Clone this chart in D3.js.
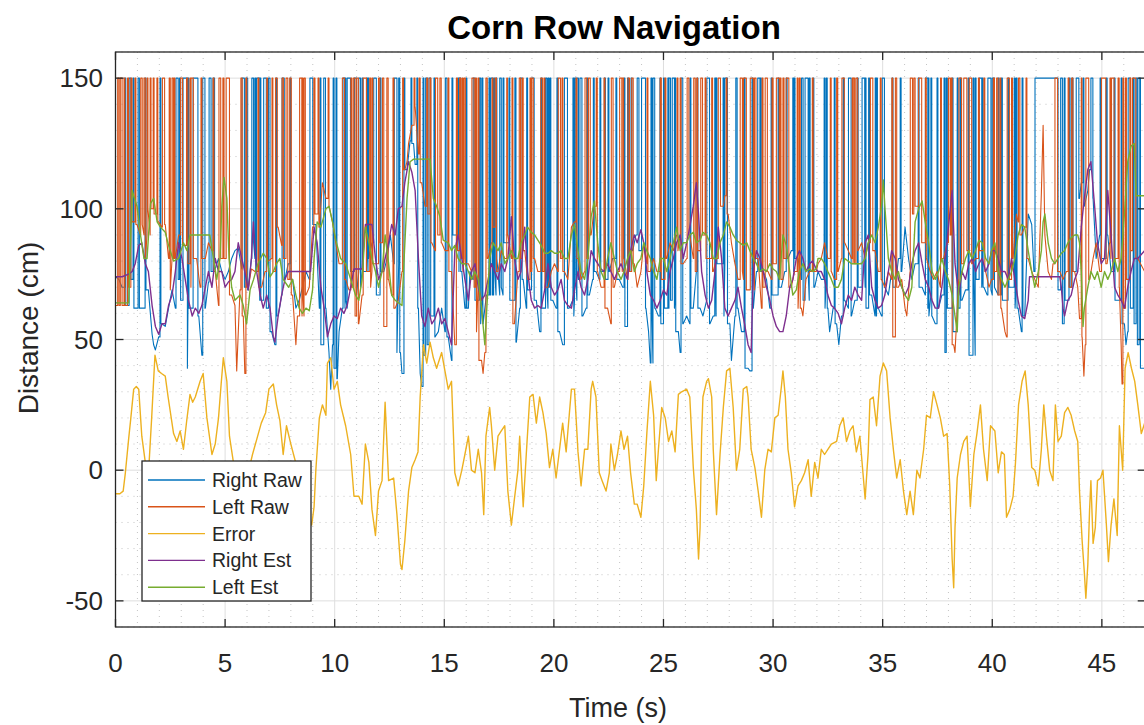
<!DOCTYPE html>
<html>
<head>
<meta charset="utf-8">
<script src="https://cdn.jsdelivr.net/npm/d3@7/dist/d3.min.js"></script>
<style>
  body { margin: 0; background: #fff; }
  text { font-family: 'Liberation Sans', Arial, Helvetica, sans-serif; fill: #262626; }
</style>
</head>
<body>
<div id="app"></div>
<script>
// [time s, distance cm]
const errorData = [[0,-9],[0.2,-9],[0.35,-8],[0.45,-1],[0.6,12],[0.7,20],[0.83,31],[0.95,32],[1.06,31],[1.2,13],[1.36,3],[1.5,-2],[1.65,20],[1.8,44],[1.95,38],[2.1,37],[2.27,36],[2.4,28],[2.65,14],[2.8,11],[2.95,15],[3.1,8],[3.25,19],[3.4,29],[3.52,26],[3.64,28],[3.86,34],[4.0,37],[4.17,20],[4.4,6],[4.55,10],[4.7,20],[4.82,33],[4.92,43],[5.08,34],[5.2,13],[5.38,3],[5.6,-4],[5.85,-6],[6.05,-1],[6.25,6],[6.45,12],[6.65,18],[6.85,22],[7.0,31],[7.2,33],[7.35,25],[7.5,19],[7.65,6],[7.8,17],[8.0,10],[8.25,2],[8.5,-8],[8.75,-16],[8.95,-21],[9.06,-14],[9.14,0],[9.3,20],[9.44,25],[9.6,21],[9.67,41],[9.82,43],[9.97,31],[10.12,34],[10.27,25],[10.5,17],[10.73,6],[10.88,-10],[11.1,-10],[11.25,-13],[11.4,10],[11.56,3],[11.7,-15],[11.86,-25],[12.0,-8],[12.16,-4],[12.3,26],[12.46,-4],[12.69,-3],[12.84,-17],[13.0,-36],[13.07,-38],[13.2,-27],[13.37,-8],[13.52,1],[13.67,4],[13.8,7],[13.9,28],[14.05,48],[14.2,41],[14.35,49],[14.5,43],[14.65,39],[14.88,45],[15.03,38],[15.18,31],[15.33,34],[15.48,-1],[15.63,-6],[15.8,0],[15.94,6],[16.1,13],[16.24,0],[16.4,-1],[16.55,8],[16.7,-1],[16.8,-17],[16.9,13],[17.07,24],[17.15,17],[17.3,0],[17.45,13],[17.6,15],[17.76,17],[17.9,-8],[18.06,-21],[18.2,-11],[18.36,0],[18.44,13],[18.6,-14],[18.74,6],[18.9,28],[19.05,29],[19.2,18],[19.35,28],[19.5,22],[19.65,14],[19.8,1],[19.95,8],[20.1,-3],[20.26,8],[20.4,18],[20.56,7],[20.7,21],[20.8,31],[20.94,31],[21.1,7],[21.24,-6],[21.4,8],[21.55,8],[21.7,31],[21.77,34],[21.92,28],[22.07,-1],[22.2,-4],[22.38,-8],[22.53,-1],[22.6,10],[22.76,0],[22.9,6],[23.06,15],[23.2,8],[23.36,13],[23.5,-1],[23.67,-13],[23.8,-13],[23.97,-18],[24.1,-6],[24.24,14],[24.4,34],[24.55,21],[24.67,-4],[24.77,8],[24.92,24],[25.08,20],[25.23,11],[25.38,15],[25.53,7],[25.68,29],[25.83,30],[26.06,31],[26.2,28],[26.36,1],[26.5,-15],[26.6,-34],[26.67,-22],[26.74,13],[26.8,28],[26.97,34],[27.05,35],[27.2,28],[27.27,8],[27.42,-17],[27.58,6],[27.73,24],[27.88,38],[28.03,39],[28.18,24],[28.33,0],[28.48,8],[28.64,31],[28.8,32],[28.86,28],[29.0,8],[29.17,1],[29.32,-8],[29.47,-18],[29.62,0],[29.77,8],[29.92,7],[30.08,20],[30.23,21],[30.38,32],[30.45,38],[30.56,28],[30.68,8],[30.83,-1],[30.98,-14],[31.14,-6],[31.29,-4],[31.44,-1],[31.6,4],[31.74,-10],[31.9,3],[32.05,-3],[32.2,8],[32.35,6],[32.5,8],[32.66,10],[32.9,11],[33.04,17],[33.2,20],[33.35,11],[33.5,15],[33.65,17],[33.8,7],[33.96,13],[34.1,-1],[34.2,-11],[34.34,7],[34.42,27],[34.57,28],[34.72,17],[34.88,36],[35.03,41],[35.18,38],[35.34,20],[35.5,7],[35.64,-3],[35.8,4],[35.95,-8],[36.1,-17],[36.25,-8],[36.4,-17],[36.56,0],[36.7,-3],[36.87,8],[37.0,21],[37.17,20],[37.32,30],[37.48,25],[37.63,20],[37.78,13],[37.94,14],[38.06,-6],[38.17,-34],[38.24,-45],[38.3,-22],[38.4,-3],[38.55,6],[38.7,11],[38.85,13],[39.0,-14],[39.16,6],[39.3,14],[39.46,25],[39.6,8],[39.77,-4],[39.92,17],[40.12,15],[40.27,-1],[40.42,7],[40.55,6],[40.65,-18],[40.8,-15],[40.95,-10],[41.06,3],[41.2,25],[41.36,34],[41.5,38],[41.64,25],[41.8,1],[41.94,0],[42.1,-6],[42.24,8],[42.35,25],[42.47,13],[42.62,0],[42.77,-4],[42.88,25],[43.0,11],[43.15,13],[43.3,22],[43.45,24],[43.6,21],[43.76,15],[43.9,11],[43.98,-8],[44.1,-27],[44.2,-39],[44.27,-49],[44.36,-36],[44.44,-15],[44.5,-4],[44.6,-28],[44.7,-22],[44.8,-4],[44.94,-3],[45.05,0],[45.2,-20],[45.3,-35],[45.42,-21],[45.55,-11],[45.7,-25],[45.8,17],[45.95,0],[46.06,39],[46.2,45],[46.35,39],[46.5,34],[46.64,25],[46.8,14],[46.95,18]];

const leftEst = [[0,64],[0.3,64],[0.6,64],[0.76,107],[0.83,105],[0.98,101],[1.14,90],[1.3,81],[1.44,81],[1.6,102],[1.74,104],[1.9,95],[2.05,93],[2.27,91],[2.42,86],[2.65,80],[2.88,81],[3.1,87],[3.26,84],[3.4,90],[3.7,90],[4.0,90],[4.3,90],[4.47,81],[4.62,73],[4.77,81],[4.85,101],[4.95,112],[5.08,104],[5.18,81],[5.3,70],[5.45,65],[5.68,67],[5.83,63],[5.98,56],[6.14,69],[6.3,73],[6.5,79],[6.74,83],[6.9,81],[7.05,74],[7.2,76],[7.35,79],[7.5,81],[7.65,73],[7.9,70],[8.08,73],[8.23,67],[8.38,62],[8.53,60],[8.69,62],[8.84,61],[8.99,69],[9.06,81],[9.2,95],[9.37,93],[9.6,100],[9.74,101],[9.9,95],[10.05,88],[10.27,81],[10.5,79],[10.73,73],[10.95,67],[11.1,65],[11.25,73],[11.4,93],[11.56,87],[11.7,81],[11.86,76],[12.0,70],[12.16,76],[12.3,90],[12.46,79],[12.6,67],[12.76,65],[13.07,63],[13.14,76],[13.3,104],[13.44,118],[13.6,119],[14.0,119],[14.35,119],[14.5,104],[14.65,101],[14.8,97],[14.95,88],[15.18,87],[15.33,84],[15.48,86],[15.63,81],[15.8,79],[15.94,79],[16.1,76],[16.24,73],[16.4,76],[16.55,73],[16.7,62],[16.85,48],[16.92,59],[17.07,81],[17.23,87],[17.45,84],[17.6,87],[17.76,79],[17.9,81],[18.06,84],[18.2,81],[18.36,81],[18.5,87],[18.67,90],[18.8,93],[18.97,91],[19.12,90],[19.27,88],[19.42,86],[19.58,83],[19.73,83],[19.88,84],[20.03,83],[20.18,83],[20.33,84],[20.48,81],[20.64,81],[20.8,90],[20.94,94],[21.1,84],[21.24,76],[21.4,73],[21.55,81],[21.7,97],[21.85,103],[22.0,87],[22.15,76],[22.3,73],[22.45,81],[22.6,87],[22.76,81],[22.9,76],[23.06,73],[23.2,76],[23.36,81],[23.5,84],[23.67,76],[23.8,79],[23.97,81],[24.1,87],[24.24,84],[24.4,81],[24.55,76],[24.7,73],[24.85,81],[25.0,81],[25.15,76],[25.3,81],[25.45,87],[25.6,93],[25.76,84],[25.9,87],[26.06,87],[26.2,90],[26.36,91],[26.5,87],[26.67,88],[26.8,91],[26.97,90],[27.12,87],[27.27,81],[27.42,81],[27.58,87],[27.73,90],[27.88,95],[28.03,93],[28.18,90],[28.33,88],[28.48,87],[28.64,86],[28.8,87],[28.94,84],[29.1,81],[29.24,79],[29.4,76],[29.55,77],[29.7,76],[29.85,79],[30.0,77],[30.15,76],[30.3,73],[30.45,90],[30.6,86],[30.76,76],[30.9,67],[31.06,69],[31.2,76],[31.36,79],[31.5,76],[31.67,77],[31.8,76],[31.97,77],[32.05,81],[32.2,81],[32.35,79],[32.5,76],[32.66,73],[32.8,70],[32.97,70],[33.12,73],[33.27,81],[33.43,80],[33.58,79],[33.73,79],[34.04,79],[34.2,81],[34.34,87],[34.5,90],[34.65,87],[34.8,93],[34.95,101],[35.03,111],[35.1,101],[35.26,81],[35.41,76],[35.57,73],[35.72,76],[35.87,70],[36.02,67],[36.18,65],[36.33,70],[36.48,95],[36.64,100],[36.8,103],[36.94,95],[37.1,87],[37.25,76],[37.4,73],[37.55,76],[37.7,81],[37.86,76],[38.0,73],[38.17,67],[38.3,59],[38.4,53],[38.47,70],[38.62,76],[38.78,81],[38.93,84],[39.08,81],[39.24,84],[39.39,88],[39.54,87],[39.7,81],[39.85,79],[39.97,84],[40.12,87],[40.27,76],[40.42,73],[40.58,70],[40.73,73],[40.88,76],[41.03,81],[41.18,90],[41.33,94],[41.48,93],[41.64,84],[41.8,76],[41.94,70],[42.1,76],[42.24,84],[42.32,95],[42.4,98],[42.55,87],[42.7,81],[42.85,79],[43.0,81],[43.15,83],[43.3,84],[43.45,87],[43.6,89],[43.76,90],[43.9,90],[43.98,87],[44.06,76],[44.14,55],[44.2,62],[44.36,70],[44.5,76],[44.67,73],[44.8,76],[44.97,70],[45.12,76],[45.27,73],[45.42,76],[45.58,81],[45.73,76],[45.88,81],[46.03,98],[46.18,118],[46.33,124],[46.48,125],[46.56,105],[46.7,105],[46.95,105]];

const rightEst = [[0,74],[0.3,74],[0.6,75],[0.76,76],[0.9,79],[1.06,86],[1.2,87],[1.36,79],[1.5,76],[1.67,63],[1.82,55],[1.97,52],[2.12,56],[2.27,56],[2.42,63],[2.58,67],[2.73,76],[2.88,87],[3.03,81],[3.18,73],[3.33,65],[3.5,59],[3.64,62],[3.8,60],[3.94,63],[4.1,70],[4.24,76],[4.4,70],[4.55,81],[4.7,76],[4.85,76],[5.0,70],[5.15,72],[5.3,73],[5.45,76],[5.6,87],[5.76,81],[5.9,76],[6.06,69],[6.2,81],[6.29,95],[6.44,76],[6.6,67],[6.74,62],[6.9,67],[7.05,62],[7.2,51],[7.27,49],[7.42,59],[7.58,67],[7.73,73],[7.88,76],[8.1,76],[8.5,76],[8.9,76],[9.06,93],[9.2,87],[9.37,70],[9.52,62],[9.67,51],[9.82,56],[9.97,59],[10.12,58],[10.27,62],[10.42,60],[10.57,63],[10.73,70],[10.88,77],[11.1,77],[11.25,77],[11.4,94],[11.7,94],[11.86,81],[12.0,73],[12.16,76],[12.3,81],[12.46,87],[12.6,94],[12.76,90],[12.9,100],[13.07,101],[13.2,110],[13.37,118],[13.52,114],[13.67,107],[13.82,81],[13.97,59],[14.12,55],[14.27,62],[14.43,56],[14.58,58],[14.73,62],[14.88,56],[15.03,58],[15.18,53],[15.33,48],[15.48,84],[15.63,90],[15.8,81],[15.94,73],[16.1,65],[16.24,76],[16.4,79],[16.55,70],[16.7,65],[16.85,67],[17.0,73],[17.15,79],[17.3,76],[17.45,73],[17.6,79],[17.76,76],[17.9,81],[18.06,97],[18.2,81],[18.36,73],[18.5,76],[18.67,93],[18.8,76],[18.97,65],[19.12,62],[19.27,63],[19.42,62],[19.58,69],[19.73,79],[19.88,70],[20.03,67],[20.18,69],[20.33,73],[20.48,65],[20.64,63],[20.8,62],[20.94,69],[21.1,76],[21.24,70],[21.4,67],[21.55,73],[21.7,84],[21.85,81],[22.0,79],[22.15,77],[22.3,76],[22.45,79],[22.6,76],[22.76,73],[22.9,76],[23.06,79],[23.2,76],[23.36,73],[23.5,84],[23.67,90],[23.8,87],[23.97,92],[24.1,87],[24.24,76],[24.4,67],[24.55,65],[24.7,62],[24.85,65],[25.0,69],[25.15,67],[25.3,76],[25.45,81],[25.6,87],[25.76,90],[25.9,81],[26.06,87],[26.2,93],[26.36,101],[26.5,110],[26.6,98],[26.74,76],[26.9,67],[27.05,62],[27.2,65],[27.35,76],[27.5,93],[27.65,81],[27.8,62],[27.95,59],[28.1,62],[28.26,65],[28.4,70],[28.56,62],[28.7,56],[28.86,48],[29.0,45],[29.1,76],[29.24,84],[29.4,81],[29.55,76],[29.7,70],[29.85,65],[30.0,59],[30.15,55],[30.3,53],[30.45,53],[30.6,59],[30.76,70],[30.9,73],[31.06,81],[31.2,84],[31.36,81],[31.5,76],[31.67,79],[31.8,80],[31.97,77],[32.05,76],[32.2,76],[32.35,73],[32.5,67],[32.66,63],[32.8,62],[32.97,60],[33.12,56],[33.27,62],[33.43,67],[33.58,65],[33.73,70],[33.88,67],[34.04,65],[34.2,87],[34.34,90],[34.5,70],[34.65,65],[34.8,62],[34.95,63],[35.1,67],[35.26,76],[35.41,84],[35.57,81],[35.72,73],[35.87,70],[36.02,67],[36.18,70],[36.33,79],[36.48,84],[36.64,87],[36.8,79],[36.94,73],[37.1,70],[37.25,65],[37.4,62],[37.55,62],[37.7,70],[37.86,81],[38.0,93],[38.17,107],[38.3,79],[38.47,67],[38.62,76],[38.78,73],[38.93,79],[39.08,81],[39.24,76],[39.39,79],[39.54,81],[39.7,76],[39.85,79],[39.97,84],[40.12,84],[40.27,81],[40.42,76],[40.58,76],[40.73,73],[40.88,81],[41.03,73],[41.18,65],[41.33,59],[41.48,58],[41.64,65],[41.7,74],[42.4,74],[43.08,74],[43.15,70],[43.23,62],[43.3,59],[43.45,65],[43.6,67],[43.76,73],[43.9,76],[44.06,93],[44.2,104],[44.36,115],[44.5,118],[44.67,101],[44.8,87],[44.97,79],[45.12,81],[45.27,107],[45.42,90],[45.58,70],[45.73,67],[45.88,65],[46.03,62],[46.18,70],[46.33,76],[46.48,81],[46.64,81],[46.95,84]];

// raw sensor readings below the 150 cm cap
const rightRawBase = [[0,74],[0.15,73],[0.3,70],[0.45,74],[0.6,63],[0.75,73],[0.9,62],[1.06,55],[1.2,62],[1.36,58],[1.5,69],[1.67,52],[1.74,48],[1.82,46],[1.97,51],[2.12,56],[2.27,55],[2.42,62],[2.58,69],[2.73,62],[2.88,73],[3.03,65],[3.18,62],[3.33,39],[3.5,62],[3.64,63],[3.8,59],[3.94,44],[4.1,62],[4.24,72],[4.4,76],[4.55,77],[4.7,81],[4.85,76],[5.0,73],[5.15,76],[5.3,81],[5.45,84],[5.6,85],[5.76,77],[5.9,70],[6.06,69],[6.2,81],[6.36,87],[6.5,76],[6.67,65],[6.82,62],[6.97,62],[7.12,53],[7.27,48],[7.42,59],[7.58,67],[7.73,73],[7.88,79],[8.08,73],[8.23,62],[8.38,65],[8.53,70],[8.69,76],[8.84,73],[8.99,90],[9.14,94],[9.3,62],[9.44,48],[9.6,62],[9.74,45],[9.82,31],[9.9,48],[10.05,39],[10.12,35],[10.2,53],[10.35,62],[10.5,70],[10.65,65],[10.8,76],[10.95,81],[11.1,67],[11.25,70],[11.4,76],[11.56,81],[11.7,87],[11.86,76],[11.93,67],[12.08,62],[12.24,76],[12.39,81],[12.54,90],[12.69,79],[12.84,62],[13.0,45],[13.07,37],[13.2,76],[13.3,115],[13.44,126],[13.6,125],[13.67,117],[13.82,62],[13.9,37],[13.97,32],[14.12,44],[14.27,48],[14.43,59],[14.58,51],[14.73,53],[14.88,62],[15.03,53],[15.18,51],[15.33,42],[15.48,90],[15.63,87],[15.8,76],[15.94,62],[16.1,62],[16.17,76],[16.3,73],[16.47,65],[16.62,62],[16.77,56],[16.92,67],[17.07,55],[17.23,67],[17.38,76],[17.53,81],[17.68,70],[17.83,87],[17.98,73],[18.14,65],[18.29,49],[18.44,62],[18.6,73],[18.74,62],[18.9,69],[19.05,76],[19.2,65],[19.35,53],[19.5,62],[19.65,48],[19.8,70],[19.95,65],[20.1,62],[20.26,53],[20.4,48],[20.56,59],[20.7,62],[20.86,65],[21.0,59],[21.17,73],[21.32,59],[21.47,62],[21.62,67],[21.77,73],[21.92,76],[22.07,73],[22.23,76],[22.38,73],[22.53,76],[22.68,81],[22.83,84],[22.98,73],[23.14,70],[23.3,55],[23.44,76],[23.6,84],[23.74,90],[23.9,84],[24.05,73],[24.2,62],[24.32,53],[24.4,41],[24.47,48],[24.62,62],[24.77,59],[24.92,56],[25.08,62],[25.23,59],[25.38,65],[25.53,62],[25.68,53],[25.76,45],[25.9,56],[26.06,59],[26.2,56],[26.36,62],[26.5,76],[26.67,62],[26.8,59],[26.97,65],[27.12,56],[27.27,59],[27.42,70],[27.58,79],[27.73,62],[27.88,59],[28.03,56],[28.1,42],[28.26,59],[28.4,62],[28.56,53],[28.7,48],[28.86,39],[28.94,38],[29.1,62],[29.24,76],[29.4,81],[29.55,76],[29.7,73],[29.85,62],[29.92,52],[30.08,67],[30.23,73],[30.38,70],[30.53,76],[30.68,81],[30.83,84],[30.98,76],[31.14,81],[31.29,73],[31.44,65],[31.6,67],[31.74,76],[31.9,70],[32.05,76],[32.2,73],[32.35,76],[32.5,62],[32.58,53],[32.74,62],[32.9,56],[33.0,48],[33.12,59],[33.27,65],[33.43,62],[33.58,59],[33.73,65],[33.88,59],[34.04,70],[34.2,76],[34.34,62],[34.5,67],[34.65,59],[34.8,62],[34.95,59],[35.1,70],[35.26,67],[35.41,76],[35.57,70],[35.72,81],[35.87,76],[36.02,93],[36.18,81],[36.33,73],[36.48,79],[36.64,73],[36.8,70],[36.94,67],[37.1,62],[37.25,59],[37.4,56],[37.55,62],[37.7,67],[37.86,45],[38.0,62],[38.17,48],[38.3,53],[38.47,62],[38.62,65],[38.78,69],[38.93,70],[39.0,44],[39.16,67],[39.3,73],[39.46,73],[39.62,70],[39.77,67],[39.92,62],[40.08,69],[40.27,70],[40.42,76],[40.58,65],[40.73,62],[40.88,70],[41.03,65],[41.18,62],[41.33,53],[41.48,59],[41.64,98],[41.8,94],[41.9,76],[43.08,69],[43.23,56],[43.3,62],[43.45,65],[43.6,70],[43.76,76],[43.9,81],[43.98,104],[44.06,110],[44.2,101],[44.36,107],[44.44,115],[44.6,104],[44.74,81],[44.9,90],[45.05,81],[45.2,126],[45.27,90],[45.42,76],[45.58,70],[45.73,65],[45.88,62],[46.03,56],[46.1,48],[46.18,53],[46.33,62],[46.48,56],[46.64,48],[46.8,39],[46.95,39]];

const leftRawBase = [[0,63],[0.15,64],[0.3,63],[0.53,63],[0.68,70],[0.83,95],[0.98,94],[1.14,90],[1.3,94],[1.44,81],[1.67,100],[1.82,98],[1.97,95],[2.12,93],[2.27,94],[2.42,81],[2.58,69],[2.73,81],[2.88,90],[3.03,84],[3.18,86],[3.33,79],[3.5,70],[3.7,81],[3.86,70],[4.1,81],[4.24,87],[4.4,84],[4.55,76],[4.7,63],[4.85,81],[5.0,81],[5.15,76],[5.3,67],[5.45,63],[5.53,38],[5.68,69],[5.83,59],[5.9,37],[6.06,70],[6.2,77],[6.36,76],[6.5,73],[6.67,70],[6.82,76],[6.97,80],[7.12,81],[7.27,76],[7.42,93],[7.58,86],[7.73,81],[7.88,73],[8.08,67],[8.23,48],[8.3,59],[8.53,70],[8.69,67],[8.84,70],[8.99,93],[9.14,98],[9.3,93],[9.44,110],[9.6,104],[9.74,101],[9.9,95],[10.05,87],[10.2,79],[10.35,77],[10.5,73],[10.65,69],[10.8,70],[10.95,59],[11.1,56],[11.25,67],[11.4,73],[11.56,76],[11.7,70],[11.86,79],[12.0,76],[12.16,87],[12.3,55],[12.46,73],[12.6,67],[12.76,62],[12.9,65],[13.07,76],[13.2,115],[13.3,118],[13.37,125],[13.52,132],[13.67,139],[13.82,121],[13.97,110],[14.12,101],[14.27,98],[14.43,87],[14.58,84],[14.73,90],[14.88,87],[15.03,84],[15.18,84],[15.33,76],[15.48,48],[15.63,84],[15.8,81],[15.94,76],[16.1,79],[16.24,76],[16.4,70],[16.55,53],[16.7,42],[16.77,37],[16.85,45],[17.0,81],[17.15,87],[17.3,93],[17.45,76],[17.6,84],[17.76,81],[17.9,90],[18.06,81],[18.2,56],[18.36,76],[18.5,81],[18.67,84],[18.8,73],[18.97,76],[19.12,81],[19.27,76],[19.42,73],[19.58,76],[19.73,70],[19.88,76],[20.03,79],[20.18,76],[20.33,81],[20.48,76],[20.64,73],[20.8,93],[20.94,95],[21.1,81],[21.24,73],[21.4,76],[21.55,81],[21.7,90],[21.85,101],[22.0,76],[22.15,70],[22.3,67],[22.45,62],[22.6,56],[22.76,70],[22.9,76],[23.06,87],[23.2,81],[23.36,73],[23.5,76],[23.67,79],[23.8,70],[23.97,76],[24.1,87],[24.24,79],[24.4,76],[24.55,81],[24.7,76],[24.85,79],[25.0,73],[25.15,81],[25.3,87],[25.45,84],[25.6,90],[25.76,84],[25.9,79],[26.06,81],[26.2,90],[26.36,81],[26.5,76],[26.67,84],[26.8,90],[26.97,81],[27.12,81],[27.27,76],[27.42,81],[27.58,81],[27.73,101],[27.8,105],[27.95,98],[28.1,87],[28.26,79],[28.4,73],[28.56,76],[28.7,76],[28.86,69],[29.0,76],[29.17,79],[29.32,81],[29.47,62],[29.62,70],[29.77,76],[29.92,73],[30.08,79],[30.23,76],[30.38,73],[30.53,81],[30.68,76],[30.83,70],[30.98,76],[31.14,70],[31.29,62],[31.36,59],[31.5,73],[31.67,76],[31.8,79],[31.97,76],[32.05,79],[32.2,81],[32.35,87],[32.5,81],[32.66,76],[32.8,73],[32.97,76],[33.12,81],[33.27,87],[33.43,84],[33.58,81],[33.73,79],[33.88,84],[34.04,87],[34.2,81],[34.34,87],[34.5,90],[34.65,84],[34.8,76],[34.95,73],[35.1,70],[35.26,76],[35.41,73],[35.5,51],[35.72,70],[35.87,73],[36.02,62],[36.1,59],[36.25,76],[36.4,98],[36.56,101],[36.7,98],[36.87,87],[37.0,81],[37.17,76],[37.32,73],[37.48,76],[37.63,70],[37.78,81],[37.94,87],[38.1,90],[38.24,48],[38.3,45],[38.47,73],[38.62,79],[38.78,81],[38.93,84],[39.08,79],[39.24,81],[39.39,87],[39.54,84],[39.7,76],[39.85,70],[39.97,73],[40.12,76],[40.27,67],[40.42,62],[40.58,53],[40.65,51],[40.8,73],[40.95,81],[41.1,98],[41.18,95],[41.33,90],[41.48,93],[41.64,81],[41.8,76],[41.94,73],[42.1,70],[42.24,106],[42.32,132],[42.4,90],[42.55,76],[42.7,73],[42.77,79],[43.08,76],[43.23,73],[43.38,76],[43.53,70],[43.76,76],[43.9,70],[43.98,58],[44.1,51],[44.18,36],[44.24,48],[44.45,73],[44.6,81],[44.74,87],[44.9,76],[45.24,79],[45.35,87],[45.65,81],[45.8,70],[45.88,48],[45.92,33],[46.03,62],[46.18,73],[46.33,84],[46.64,81],[46.95,76]];

// [start, end] in seconds where each raw sensor sat at its 150 cm cap
const rightSat = [[0.62,0.7],[1.03,1.09],[2.78,2.86],[2.92,2.97],[3.08,3.28],[3.55,3.76],[3.98,4.06],[4.3,4.36],[4.45,4.52],[5.8,5.88],[5.95,6.03],[6.22,6.3],[6.44,6.58],[6.76,6.88],[6.98,7.05],[7.6,7.7],[8.9,9.0],[9.5,9.58],[10.38,10.46],[10.57,10.72],[10.9,11.0],[11.1,11.18],[11.45,11.5],[11.78,11.9],[12.72,12.8],[12.92,12.97],[14.15,14.22],[14.3,14.38],[15.05,15.1],[15.68,15.75],[16.32,16.4],[16.6,16.66],[17.12,17.2],[17.25,17.3],[17.53,17.6],[18.22,18.27],[18.47,18.55],[18.76,18.8],[18.98,19.1],[19.62,19.68],[19.82,19.86],[20.48,20.62],[20.94,21.0],[21.05,21.12],[21.2,21.28],[21.8,21.84],[22.3,22.35],[23.36,23.4],[23.8,23.88],[24.0,24.18],[24.52,24.6],[25.0,25.04],[25.25,25.32],[25.4,25.5],[25.8,25.88],[26.98,27.1],[27.34,27.38],[27.8,27.92],[28.3,28.36],[29.3,29.38],[29.42,29.46],[30.9,30.94],[31.3,31.34],[31.46,31.6],[31.82,31.86],[32.43,32.47],[33.44,33.55],[34.06,34.18],[34.36,34.4],[34.72,34.76],[34.98,35.08],[36.95,37.06],[37.2,37.24],[37.9,37.95],[38.4,38.44],[39.12,39.16],[39.4,39.52],[39.8,39.9],[40.0,40.1],[40.42,40.46],[41.0,41.04],[41.95,43.0],[43.12,43.2],[43.5,43.55],[43.83,43.95],[44.5,44.56],[46.2,46.3],[46.56,46.62],[46.7,46.76]];

const leftSat = [[0.1,0.16],[0.22,0.3],[0.55,0.6],[0.7,0.75],[1.15,1.22],[1.3,1.36],[1.58,1.62],[1.72,1.76],[2.14,2.24],[2.45,2.5],[2.58,2.64],[2.97,3.06],[3.24,3.3],[3.45,3.55],[4.72,4.8],[4.9,4.95],[5.05,5.2],[5.72,5.78],[6.9,6.94],[7.3,7.38],[7.6,7.66],[7.78,7.86],[7.95,8.02],[8.4,8.5],[8.6,8.66],[9.05,9.1],[10.35,10.45],[10.85,10.93],[11.0,11.08],[11.3,11.45],[11.6,11.64],[12.0,12.06],[12.18,12.24],[12.38,12.44],[13.1,13.14],[13.85,13.9],[14.2,14.25],[14.6,14.7],[14.8,14.86],[15.55,15.6],[15.7,15.75],[15.9,15.96],[16.26,16.36],[16.42,16.47],[16.9,16.96],[17.32,17.38],[17.85,17.88],[18.42,18.48],[18.55,18.6],[18.99,19.06],[19.4,19.48],[20.2,20.3],[21.42,21.5],[21.58,21.66],[21.93,21.98],[22.62,22.7],[23.0,23.1],[23.12,23.18],[23.4,23.45],[23.55,23.62],[24.85,24.9],[25.62,25.66],[26.08,26.16],[26.38,26.45],[26.52,26.56],[26.7,26.78],[27.2,27.24],[27.5,27.6],[28.5,28.6],[28.65,28.78],[28.96,29.1],[29.15,29.22],[29.64,29.74],[29.95,30.0],[30.15,30.28],[30.45,30.5],[30.6,30.72],[31.2,31.24],[32.9,32.95],[33.14,33.25],[33.66,33.72],[33.78,33.86],[34.44,34.55],[35.42,35.46],[35.6,35.64],[36.26,36.36],[36.42,36.48],[36.64,36.78],[38.0,38.08],[38.12,38.17],[38.48,38.6],[38.7,38.84],[38.95,39.06],[39.62,39.66],[40.05,40.1],[40.2,40.26],[40.68,40.78],[40.88,40.92],[41.2,41.26],[42.86,42.98],[43.62,43.68],[44.06,44.09],[44.3,44.4],[44.98,45.18],[45.44,45.56],[45.74,45.79],[45.96,46.0],[46.08,46.12],[46.4,46.55]];

// single-reading jumps to the cap, one time each
const rightBlips = [0.43,0.8,1.35,2.03,2.76,3.31,3.54,4.04,4.27,5.77,6.36,6.59,7.32,7.64,7.96,8.87,9.33,9.93,10.06,10.47,10.93,11.25,11.52,12.07,12.8,13.16,13.48,13.75,14.03,14.53,15.08,15.35,15.63,15.99,16.36,16.72,17.04,17.36,17.68,17.95,18.23,18.5,19.05,19.41,19.73,20.14,20.55,20.87,21.19,21.51,22.1,22.47,22.83,23.2,23.52,24.11,24.43,24.84,25.2,25.52,26.21,26.53,27.03,27.4,27.72,28.31,28.68,29.04,29.36,29.91,30.23,30.6,30.96,31.33,31.65,32.33,32.79,33.2,33.52,33.84,34.2,34.66,35.02,35.43,35.8,36.62,37.07,37.48,37.8,38.17,38.53,38.9,39.22,39.54,39.9,40.27,40.72,41.09,41.36,43.28,43.64,44.14,44.55,44.92,45.2,45.56,45.88,46.43];
const leftBlips = [0.39,0.89,1.44,1.89,2.67,3.4,3.9,4.45,5.95,6.5,7.14,8.51,9.24,9.7,10.74,11.7,12.66,13.62,14.35,15.17,15.81,16.54,17.18,18.09,18.91,19.55,20.37,21.01,22.29,23.38,24.25,25.07,25.76,26.9,27.86,29.5,30.32,31.1,31.79,32.61,33.61,34.89,35.58,36.95,37.64,39.37,40.35,41.54,43.46,44.27,45.37,46.28];

const seriesNames = ['Right Raw', 'Left Raw', 'Error', 'Right Est', 'Left Est'];
const seriesColors = ['#0072BD', '#D95319', '#EDB120', '#7E2F8E', '#77AC30'];
const xTicks = [0, 5, 10, 15, 20, 25, 30, 35, 40, 45];
const yTicks = [-50, 0, 50, 100, 150];

(function (d3) {
  'use strict'
  const W = 1144, H = 725
  const left = 115.5, right = 1145.7, top = 52, bottom = 627
  const cap = 150, blipWidth = 0.04

  const x = d3.scaleLinear().domain([0, 47]).range([left, right])
  const y = d3.scaleLinear().domain([-60, 160]).range([bottom, top])

  // raw trace: readings, with the capped stretches pushed up to 150
  const buildRaw = function (base, sat, blips) {
    const all = sat.concat(blips.map((t) => [t, t + blipWidth]))
      .sort((a, b) => a[0] - b[0])
    const iv = []
    all.forEach((s) => {
      const last = iv[iv.length - 1]
      if (last && s[0] <= last[1]) last[1] = Math.max(last[1], s[1])
      else iv.push([s[0], s[1]])
    })
    const pts = []
    let j = 0
    let prev = base[0][1]
    base.forEach((p) => {
      while (j < iv.length && iv[j][1] < p[0]) {
        pts.push([iv[j][0], prev], [iv[j][0], cap], [iv[j][1], cap], [iv[j][1], p[1]])
        j++
      }
      if (j < iv.length && p[0] >= iv[j][0]) return
      pts.push(p)
      prev = p[1]
    })
    for (; j < iv.length; j++) {
      pts.push([iv[j][0], prev], [iv[j][0], cap], [iv[j][1], cap], [iv[j][1], prev])
    }
    return pts
  }
  const series = [
    buildRaw(rightRawBase, rightSat, rightBlips),
    buildRaw(leftRawBase, leftSat, leftBlips),
    errorData,
    rightEst,
    leftEst
  ]
  const widths = [1.1, 1.1, 1.4, 1.4, 1.4]

  const svg = d3.select('#app').append('svg')
    .attr('width', W).attr('height', H)
    .style('display', 'block')

  svg.append('defs').append('clipPath').attr('id', 'plot')
    .append('rect').attr('x', left).attr('y', top)
    .attr('width', right - left).attr('height', bottom - top)

  // minor grid
  const g = svg.append('g')
  g.selectAll('.mx').data(d3.range(1, 47).filter((d) => d % 5 !== 0))
    .enter().append('line')
    .attr('x1', (d) => x(d)).attr('x2', (d) => x(d))
    .attr('y1', top).attr('y2', bottom)
    .attr('stroke', '#c4c4c4').attr('stroke-width', 1)
    .attr('stroke-dasharray', '1,5')
  g.selectAll('.my').data(d3.range(-60, 161, 10).filter((d) => d % 50 !== 0))
    .enter().append('line')
    .attr('y1', (d) => y(d)).attr('y2', (d) => y(d))
    .attr('x1', left).attr('x2', right)
    .attr('stroke', '#c4c4c4').attr('stroke-width', 1)
    .attr('stroke-dasharray', '1,5')

  // major grid
  g.selectAll('.gx').data(xTicks.slice(1)).enter().append('line')
    .attr('x1', (d) => x(d)).attr('x2', (d) => x(d))
    .attr('y1', top).attr('y2', bottom)
    .attr('stroke', '#dedede').attr('stroke-width', 1)
  g.selectAll('.gy').data(yTicks).enter().append('line')
    .attr('y1', (d) => y(d)).attr('y2', (d) => y(d))
    .attr('x1', left).attr('x2', right)
    .attr('stroke', '#dedede').attr('stroke-width', 1)

  const line = d3.line().x((d) => x(d[0])).y((d) => y(d[1]))
  svg.append('g').attr('clip-path', 'url(#plot)')
    .selectAll('path').data(series).enter().append('path')
    .attr('d', line)
    .attr('fill', 'none')
    .attr('stroke', (d, i) => seriesColors[i])
    .attr('stroke-width', (d, i) => widths[i])
    .attr('stroke-linejoin', 'round')

  // axes box and inward ticks
  const axisColor = '#262626'
  svg.append('rect').attr('x', left).attr('y', top)
    .attr('width', right - left).attr('height', bottom - top)
    .attr('fill', 'none').attr('stroke', axisColor).attr('stroke-width', 1.3)

  const tickLen = 8
  const ticks = svg.append('g').attr('stroke', axisColor).attr('stroke-width', 1.3)
  xTicks.forEach((t) => {
    ticks.append('line').attr('x1', x(t)).attr('x2', x(t)).attr('y1', bottom).attr('y2', bottom - tickLen)
    ticks.append('line').attr('x1', x(t)).attr('x2', x(t)).attr('y1', top).attr('y2', top + tickLen)
  })
  yTicks.forEach((v) => {
    ticks.append('line').attr('x1', left).attr('x2', left + tickLen).attr('y1', y(v)).attr('y2', y(v))
    ticks.append('line').attr('x1', right).attr('x2', right - tickLen).attr('y1', y(v)).attr('y2', y(v))
  })

  svg.append('g').selectAll('text').data(xTicks).enter().append('text')
    .attr('x', (d) => x(d)).attr('y', 672)
    .attr('text-anchor', 'middle').style('font-size', '26px')
    .text((d) => d)
  svg.append('g').selectAll('text').data(yTicks).enter().append('text')
    .attr('x', 103).attr('y', (d) => y(d) + 9.3)
    .attr('text-anchor', 'end').style('font-size', '26px')
    .text((d) => d)

  svg.append('text').attr('x', 618).attr('y', 717)
    .attr('text-anchor', 'middle').style('font-size', '27px')
    .text('Time (s)')
  svg.append('text')
    .attr('transform', 'translate(38,328) rotate(-90)')
    .attr('text-anchor', 'middle').style('font-size', '28px')
    .text('Distance (cm)')
  svg.append('text').attr('x', 614).attr('y', 39)
    .attr('text-anchor', 'middle').style('font-size', '33px').style('font-weight', 'bold')
    .style('fill', '#000')
    .text('Corn Row Navigation')

  // legend
  const lg = svg.append('g').attr('transform', 'translate(142,461)')
  lg.append('rect').attr('width', 169).attr('height', 140)
    .attr('fill', '#fff').attr('stroke', axisColor).attr('stroke-width', 1.3)
  const row = lg.selectAll('.row').data(seriesNames).enter().append('g')
    .attr('transform', (d, i) => 'translate(0,' + (19 + i * 26.8) + ')')
  row.append('line').attr('x1', 6).attr('x2', 63)
    .attr('stroke', (d, i) => seriesColors[i]).attr('stroke-width', 1.4)
  row.append('text').attr('x', 70).attr('y', 7)
    .style('font-size', '19.5px').text((d) => d)
}(d3))
</script>
</body>
</html>
